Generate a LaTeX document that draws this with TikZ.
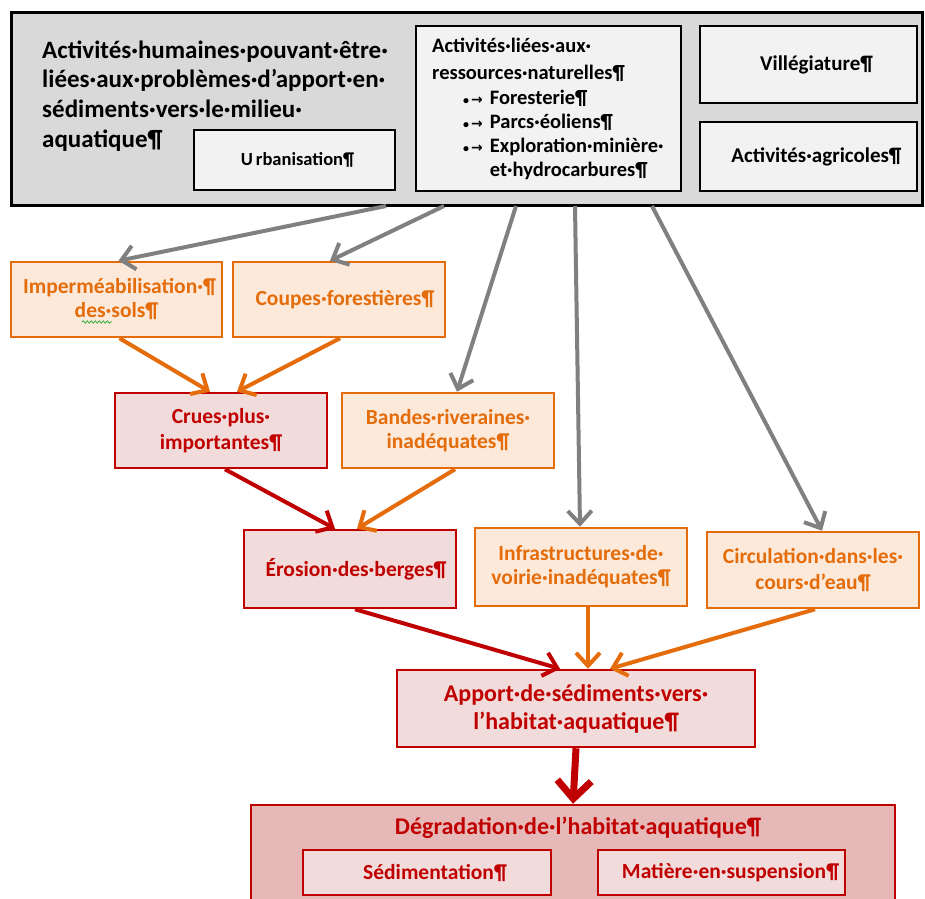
\documentclass[tikz,border=0pt]{standalone}
\usepackage{fontspec}
\setmainfont{Carlito}
\newfontfamily\dv{DejaVu Sans}
\usetikzlibrary{arrows.meta,decorations.pathmorphing}
\definecolor{orng}{HTML}{E46C0A}
\definecolor{orfill}{HTML}{FDE9D9}
\definecolor{rd}{HTML}{C00000}
\definecolor{rdfill}{HTML}{F2DCDB}
\definecolor{rddark}{HTML}{E6B9B8}
\definecolor{gr}{HTML}{808080}
\definecolor{topfill}{HTML}{D9D9D9}
\definecolor{infill}{HTML}{F2F2F2}
\definecolor{spell}{HTML}{3CB043}
\newcommand{\tabarrow}{{\fontsize{12}{12}\selectfont•}\hspace{2pt}{\dv\fontsize{14}{14}\selectfont →}\hspace{7pt}}
\begin{document}
\begin{tikzpicture}[x=1pt,y=-1pt,
  every node/.style={inner sep=0pt, align=center, font=\bfseries},
  blackbox/.style={draw=black, fill=infill, line width=2.5, font=\bfseries\fontsize{21}{24}\selectfont},
  orbox/.style={draw=orng, fill=orfill, line width=2.5, text=orng, font=\bfseries\fontsize{21.5}{24}\selectfont},
  rdbox/.style={draw=rd, fill=rdfill, line width=2.5, text=rd, font=\bfseries\fontsize{21.5}{26}\selectfont},
  grarrow/.style={draw=gr, line width=4, -{Straight Barb[length=13,width=24]}},
  orarrow/.style={draw=orng, line width=4, -{Straight Barb[length=13,width=24]}},
  rdarrow/.style={draw=rd, line width=4, -{Straight Barb[length=13,width=24]}},
  bigarrow/.style={draw=rd, line width=7, -{Straight Barb[length=18,width=34]}}
]
\useasboundingbox (0,0) rectangle (925,898);
\clip (0,0) rectangle (925,898);
% top box
\node[draw=black, fill=topfill, line width=3, minimum width=911, minimum height=193] (top) at (466.5,108.5) {};
\node[anchor=north west, align=left, font=\bfseries\fontsize{25}{29.7}\selectfont] (toptitle) at (42,40.5)
  {Activités·humaines·pouvant·être·\\liées·aux·problèmes·d’apport·en·\\sédiments·vers·le·milieu·\\aquatique¶};
\node[blackbox, minimum width=201, minimum height=60, font=\bfseries\fontsize{18.5}{20}\selectfont] (urb) at (294.5,160) {\hspace*{6pt}U\,rbanisation¶};
\node[blackbox, minimum width=265, minimum height=165] (res) at (548.5,108.5) {};
\node[anchor=north west, align=left, font=\bfseries\fontsize{20.5}{27}\selectfont] (restitle) at (432,38)
  {Activités·liées·aux·\\ressources·naturelles¶};
\node[anchor=north west, align=left, font=\bfseries\fontsize{20.5}{24}\selectfont] (reslist) at (463,90)
  {\tabarrow Foresterie¶\\
   \tabarrow Parcs·éoliens¶\\
   \tabarrow Exploration·minière·\\
   \phantom{\tabarrow}et·hydrocarbures¶};
\node[blackbox, minimum width=217, minimum height=77] (vil) at (808.5,64.5) {\hspace*{16pt}Villégiature¶};
\node[blackbox, minimum width=217, minimum height=69] (agr) at (808.5,156.5) {\hspace*{16pt}Activités·agricoles¶};
% orange / red boxes
\node[orbox, minimum width=211, minimum height=75] (imp) at (116.5,299.5) {\hspace*{6pt}Imperméabilisation·¶\\des·sols¶};
\draw[spell, line width=0.8, decorate, decoration={snake, amplitude=1.2, segment length=4}] (82,322) -- (112,322);
\node[orbox, minimum width=212, minimum height=75] (coupes) at (339,299.5) {\hspace*{12pt}Coupes·forestières¶};
\node[rdbox, minimum width=212, minimum height=75] (crues) at (221,430.5) {Crues·plus·\\importantes¶};
\node[orbox, minimum width=212, minimum height=75] (bandes) at (448,430.5) {Bandes·riveraines·\\inadéquates¶};
\node[rdbox, minimum width=212, minimum height=78] (eros) at (350,569) {\hspace*{12pt}Érosion·des·berges¶};
\node[orbox, minimum width=212, minimum height=78] (infra) at (581,567) {Infrastructures·de·\\voirie·inadéquates¶};
\node[orbox, minimum width=212, minimum height=76, font=\bfseries\fontsize{21.5}{26}\selectfont] (circ) at (813,570) {Circulation·dans·les·\\cours·d’eau¶};
\node[rdbox, minimum width=358, minimum height=77, font=\bfseries\fontsize{24}{28}\selectfont] (apport) at (576,708.5) {Apport·de·sédiments·vers·\\l’habitat·aquatique¶};
\node[draw=rd, fill=rddark, line width=2.5, minimum width=644, minimum height=110] (degr) at (573,860) {};
\node[text=rd, font=\bfseries\fontsize{24}{28}\selectfont] (degrt) at (578,828) {Dégradation·de·l’habitat·aquatique¶};
\node[rdbox, minimum width=248, minimum height=45] (sed) at (427,872.5) {\hspace*{16pt}Sédimentation¶};
\node[rdbox, minimum width=247, minimum height=45] (mat) at (721.5,872.5) {\hspace*{18pt}Matière·en·suspension¶};
% gray arrows
\coordinate (g1) at (386,206);
\coordinate (g2) at (444,206);
\coordinate (g3) at (516,206);
\coordinate (g4) at (575,206);
\coordinate (g5) at (652,206);
\draw[grarrow] (g1) -- ([xshift=2]imp.north);
\draw[grarrow] (g2) -- ([xshift=-9]coupes.north);
\draw[grarrow] (g3) -- ([xshift=9]bandes.north);
\draw[grarrow] (g4) -- ([xshift=-1]infra.north);
\draw[grarrow] (g5) -- ([xshift=9]circ.north);
% orange / red arrows
\draw[orarrow] ([xshift=3]imp.south) -- ([xshift=-11]crues.north);
\draw[orarrow] ([xshift=1]coupes.south) -- ([xshift=16]crues.north);
\draw[orarrow] ([xshift=7]bandes.south) -- ([xshift=7]eros.north);
\draw[rdarrow] ([xshift=4]crues.south) -- ([xshift=-15]eros.north);
\draw[rdarrow] ([xshift=5]eros.south) -- ([xshift=-16]apport.north);
\draw[orarrow] ([xshift=7]infra.south) -- ([xshift=12]apport.north);
\draw[orarrow] ([xshift=2]circ.south) -- ([xshift=34]apport.north);
\draw[bigarrow] (apport.south) -- (degr.north);
\end{tikzpicture}
\end{document}
